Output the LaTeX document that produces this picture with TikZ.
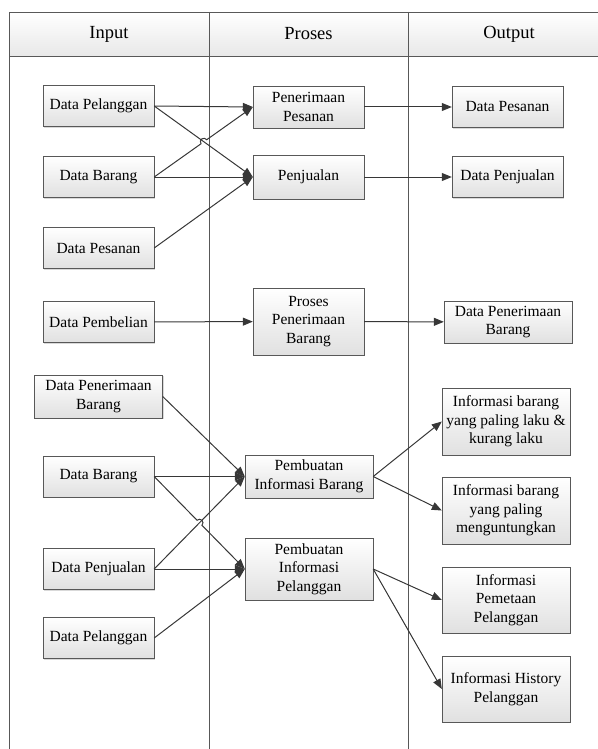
\documentclass[tikz,border=0pt]{standalone}
\usepackage{fontspec}
\setmainfont{Liberation Serif}
\usetikzlibrary{positioning,arrows.meta,calc,intersections,shadows}
\definecolor{linecolor}{RGB}{55,55,55}
\definecolor{framecolor}{RGB}{88,88,88}
\newcommand{\boxfont}{\fontsize{15.5}{18.5}\selectfont}
\newcommand{\headfont}{\fontsize{18.5}{22}\selectfont}
\tikzset{
  box/.style={draw=framecolor, top color=white, bottom color=black!12, minimum width=111pt, minimum height=41pt, font=\boxfont, align=center, inner sep=2pt, drop shadow={shadow xshift=1.2pt, shadow yshift=-1.2pt, opacity=0.3}},
  wbox/.style={box, minimum width=128pt},
  head/.style={font=\headfont},
  lane/.style={draw=framecolor, line width=0.9pt},
  flow/.style={-{Triangle[length=10pt,width=8pt]}, line width=1pt, draw=linecolor},
}

\begin{document}
\begin{tikzpicture}[x=1pt,y=-1pt]
\useasboundingbox (0,0) rectangle (597,749);
% swimlanes
\shade[top color=white, bottom color=black!9] (9.5,12) rectangle (610,56);
\draw[lane] (9.5,760) -- (9.5,12) -- (610,12) -- (610,760);
\draw[lane] (9.5,56) -- (610,56);
\draw[lane] (209,12) -- (209,760);
\draw[lane] (408,12) -- (408,760);
\node[head] (hin)  at (109,34)   {Input};
\node[head] (hpro) at (308.5,34) {Proses};
\node[head] (hout) at (509,34)   {Output};
% input
\node[box] (dpl)   at (98.5,106)   {Data Pelanggan};
\node[box] (dbr)   at (98.5,177)   {Data Barang};
\node[box] (dps)   at (98.5,248)   {Data Pesanan};
\node[box] (dpb)   at (98.5,322)   {Data Pembelian};
\node[wbox, minimum height=43pt] (dpnb) at (98.5,396.5) {Data Penerimaan\\Barang};
\node[box] (dbr2)  at (98.5,476.5) {Data Barang};
\node[box] (dpj)   at (98.5,569)   {Data Penjualan};
\node[box] (dplg2) at (98.5,638)   {Data Pelanggan};
% proses
\node[box, minimum height=42pt] (pnp) at (308.5,107)   {Penerimaan\\Pesanan};
\node[box, minimum height=44pt] (pjl) at (308.5,177)   {Penjualan};
\node[box, minimum height=67pt] (ppb) at (308.5,321.5) {Proses\\Penerimaan\\Barang};
\node[wbox, minimum height=43pt] (pib) at (309,476.5)  {Pembuatan\\Informasi Barang};
\node[wbox, minimum height=62pt] (pip) at (309,569)    {Pembuatan\\Informasi\\Pelanggan};
% output
\node[box] (opes)  at (507.5,107) {Data Pesanan};
\node[box] (opjl)  at (507.5,177) {Data Penjualan};
\node[wbox, minimum height=42pt] (odpb)    at (508,322)   {Data Penerimaan\\Barang};
\node[wbox, minimum height=67pt] (ilaku)   at (506,421.5) {Informasi barang\\yang paling laku \&\\kurang laku};
\node[wbox, minimum height=67pt] (iuntung) at (506,510.5) {Informasi barang\\yang paling\\menguntungkan};
\node[wbox, minimum height=66pt] (ipeta)   at (506,600)   {Informasi\\Pemetaan\\Pelanggan};
\node[wbox, minimum height=66pt] (ihist)   at (506,689)   {Informasi History\\Pelanggan};
% flows (top)
\draw[flow] (dpl.east) -- (pnp.west);
\draw[flow, name path=a1] (dpl.east) -- (pjl.west);
\path[name path=a2] (dbr.east) -- (pnp.west);
\path[name intersections={of=a1 and a2, by=j1}];
\draw[flow] let \p1=($(pnp.west)-(dbr.east)$), \n1={atan2(\y1,\x1)} in
  (dbr.east) -- ($(j1)!3.5pt!(dbr.east)$) arc[start angle=\n1+180, delta angle=-180, radius=3.5pt] -- (pnp.west);
\draw[flow] (dbr.east) -- (pjl.west);
\draw[flow] (dps.east) -- (pjl.west);
\draw[flow] (pnp) -- (opes);
\draw[flow] (pjl) -- (opjl);
\draw[flow] (dpb) -- (ppb);
\draw[flow] (ppb) -- (odpb);
% flows (bottom)
\draw[flow] (dpnb.east) -- (pib.west);
\draw[flow] (dbr2.east) -- (pib.west);
\draw[flow, name path=b1] (dpj.east) -- (pib.west);
\path[name path=b2] (dbr2.east) -- (pip.west);
\path[name intersections={of=b1 and b2, by=j2}];
\draw[flow] let \p1=($(pip.west)-(dbr2.east)$), \n1={atan2(\y1,\x1)} in
  (dbr2.east) -- ($(j2)!3.5pt!(dbr2.east)$) arc[start angle=\n1+180, delta angle=-180, radius=3.5pt] -- (pip.west);
\draw[flow] (dpj.east) -- (pip.west);
\draw[flow] (dplg2.east) -- (pip.west);
\draw[flow] (pib.east) -- (ilaku.west);
\draw[flow] (pib.east) -- (iuntung.west);
\draw[flow] (pip.east) -- (ipeta.west);
\draw[flow] (pip.east) -- (ihist.west);
\end{tikzpicture}
\end{document}
